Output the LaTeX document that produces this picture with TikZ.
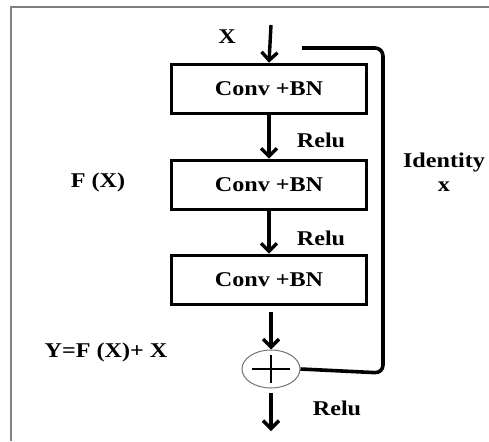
\documentclass[tikz,border=0pt]{standalone}
\usepackage{fontspec}
\setmainfont{Liberation Serif}[FakeStretch=1.15]
\usetikzlibrary{arrows.meta,shapes.geometric}
\begin{document}
\begin{tikzpicture}[x=1pt,y=-1pt,
  lbl/.style={font=\bfseries\fontsize{21}{23}\selectfont, inner sep=0pt},
  blockbox/.style={draw, line width=3.6pt, minimum width=195pt, minimum height=49pt, inner sep=0pt, font=\bfseries\fontsize{21}{23}\selectfont},
  flow/.style={line width=3.4pt, -{Straight Barb[length=8pt,width=16pt,line width=3.4pt]}},
  idline/.style={line width=3.6pt, rounded corners=8pt},
  frame/.style={draw=black!50, line width=2pt}]
\useasboundingbox (0,0) rectangle (489,441);
\draw[frame] (11,441) -- (11,7) -- (489,7);
% blocks
\node[blockbox] (b1) at (269,89) {Conv +BN};
\node[blockbox] (b2) at (269,185) {Conv +BN};
\node[blockbox] (b3) at (269,280) {Conv +BN};
\node[draw=black!55, line width=1pt, ellipse, minimum width=58pt, minimum height=38pt, inner sep=0pt] (sum) at (271,369) {};
\draw[line width=2.8pt] (252,369) -- (290,369) (271,355) -- (271,383);
% coordinates
\coordinate (in) at (271,25);
\coordinate (out) at (271,431);
\coordinate (idstart) at (302,48);
\coordinate (idx) at (383,48);
% arrows
\draw[flow] (in) -- (b1.north);
\draw[flow] (b1.south) -- (b2.north);
\draw[flow] (b2.south) -- (b3.north);
\draw[flow] (271,312) -- (sum.north);
\draw[flow] (271,393) -- (out);
% identity
\draw[idline] (idstart) -- (idx) -- (383,373) -- (sum.east);
% labels
\node[lbl] (lx) at (227,37) {X};
\node[lbl] (r1) at (321,140) {Relu};
\node[lbl] (r2) at (321,238) {Relu};
\node[lbl] (r3) at (337,408) {Relu};
\node[lbl] (fx) at (98,182) {F (X)};
\node[lbl] (yfx) at (106,352) {Y=F (X)+ X};
\node[lbl] (idl) at (444,162) {Identity};
\node[lbl] (idx2) at (444,187) {x};
\end{tikzpicture}
\end{document}
